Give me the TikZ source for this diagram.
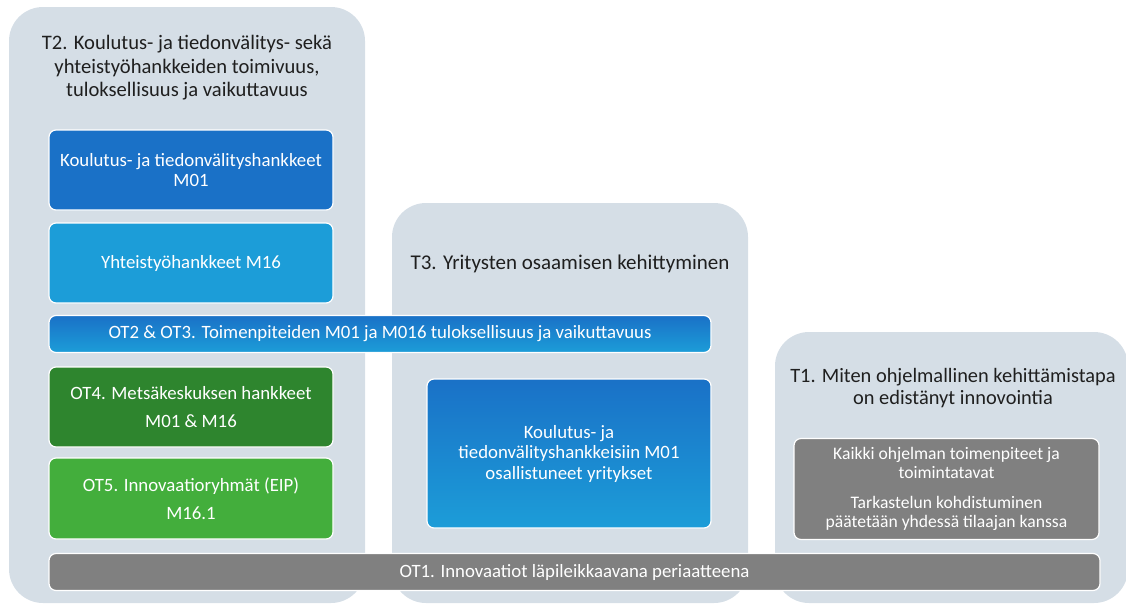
\documentclass[tikz,border=0pt]{standalone}
\usepackage{fontspec}
\setmainfont{Carlito}
\definecolor{panel}{HTML}{D5DEE6}
\definecolor{darkblue}{HTML}{1A71C7}
\definecolor{lightblue}{HTML}{1C9DD8}
\definecolor{darkgreen}{HTML}{2E852E}
\definecolor{lightgreen}{HTML}{43AE3C}
\definecolor{boxgray}{HTML}{808080}
\begin{document}
\begin{tikzpicture}[x=1pt,y=-1pt,
    panelbox/.style={fill=panel,rounded corners=34pt,inner sep=0pt},
    itembox/.style={draw=white,line width=1.2pt,rounded corners=7pt,text=white,align=center,inner sep=0pt,
      font=\fontsize{18.8}{20.5}\selectfont},
    titletext/.style={align=center,text=black!88,font=\fontsize{20.6}{23.5}\selectfont},
    grad/.style={top color=darkblue,bottom color=lightblue}]
  \useasboundingbox (0,0) rectangle (1126,605);
  % panels
  \node[panelbox,minimum width=356pt,minimum height=596pt] (p2) at (187,305) {};
  \node[panelbox,minimum width=356pt,minimum height=400pt] (p3) at (570,403) {};
  \node[panelbox,minimum width=353pt,minimum height=271pt] (p1) at (951.5,467.5) {};
  % titles
  \node[titletext] (t2) at (187,68) {T2. Koulutus- ja tiedonvälitys- sekä\\yhteistyöhankkeiden toimivuus,\\tuloksellisuus ja vaikuttavuus};
  \node[titletext,font=\fontsize{21}{24}\selectfont] (t3) at (570,264) {T3. Yritysten osaamisen kehittyminen};
  \node[titletext,font=\fontsize{20.4}{22}\selectfont] (t1) at (953,388) {T1. Miten ohjelmallinen kehittämistapa\\on edistänyt innovointia};
  % T2 boxes
  \node[itembox,fill=darkblue,minimum width=284pt,minimum height=80pt] (m01) at (191,170) {Koulutus- ja tiedonvälityshankkeet\\M01};
  \node[itembox,fill=lightblue,minimum width=284pt,minimum height=80pt] (m16) at (191,263) {Yhteistyöhankkeet M16};
  \node[itembox,grad,minimum width=662pt,minimum height=37pt] (ot23) at (380,334) {OT2 \& OT3. Toimenpiteiden M01 ja M016 tuloksellisuus ja vaikuttavuus};
  \node[itembox,fill=darkgreen,minimum width=284pt,minimum height=80pt,font=\fontsize{18.8}{28}\selectfont] (ot4) at (191,407) {OT4. Metsäkeskuksen hankkeet\\M01 \& M16};
  \node[itembox,fill=lightgreen,minimum width=284pt,minimum height=81pt,font=\fontsize{18.8}{28}\selectfont] (ot5) at (191,498.5) {OT5. Innovaatioryhmät (EIP)\\M16.1};
  % T3 box
  \node[itembox,grad,minimum width=284pt,minimum height=149pt] (yr) at (569,453.5) {Koulutus- ja\\tiedonvälityshankkeisiin M01\\osallistuneet yritykset};
  % T1 box
  \node[itembox,fill=boxgray,minimum width=305pt,minimum height=101pt,font=\fontsize{17.6}{19.5}\selectfont] (kaikki) at (946.5,489) {Kaikki ohjelman toimenpiteet ja\\toimintatavat\\[10pt]Tarkastelun kohdistuminen\\päätetään yhdessä tilaajan kanssa};
  % OT1 bar
  \node[itembox,fill=boxgray,minimum width=1051pt,minimum height=37pt] (ot1) at (574.5,572) {OT1. Innovaatiot läpileikkaavana periaatteena};
\end{tikzpicture}
\end{document}
